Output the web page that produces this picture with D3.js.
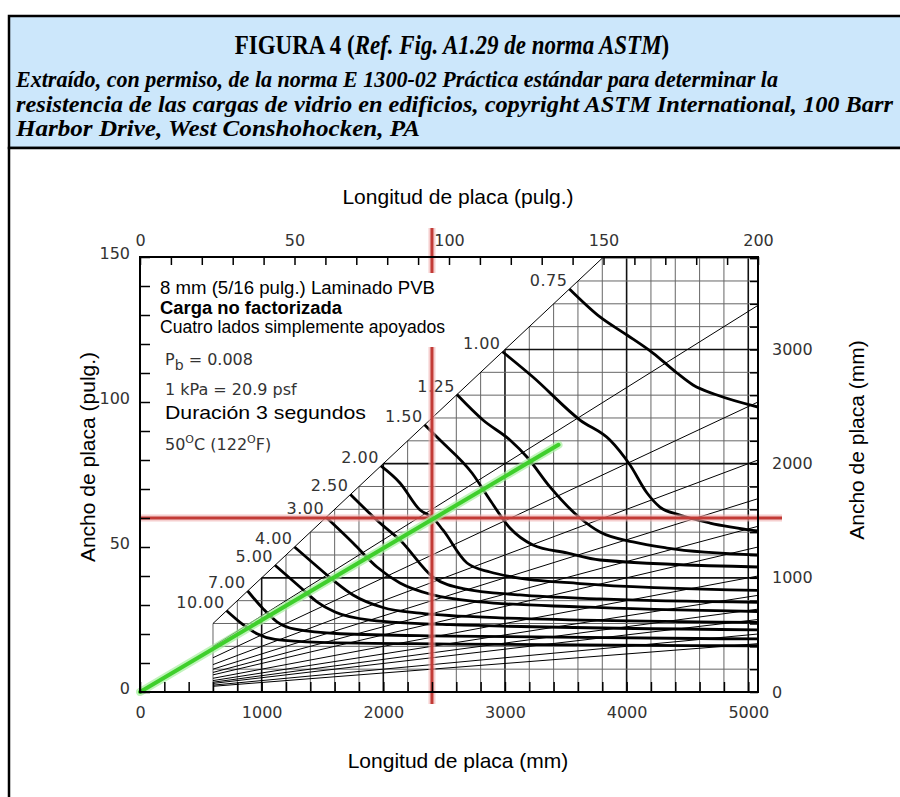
<!DOCTYPE html>
<html><head><meta charset="utf-8">
<script src="https://cdn.jsdelivr.net/npm/d3@7"></script>
<style>
html,body{margin:0;padding:0;background:#fff;}
svg{display:block;}
</style></head><body>
<svg id="c" width="900" height="797"></svg>
<script>
// ================= DATA =================
const headerTitleBold = "FIGURA 4 (";
const headerTitleItalic = "Ref. Fig. A1.29 de norma ASTM";
const headerTitleEnd = ")";
const headerLines = [
  "Extraído, con permiso, de la norma E 1300-02 Práctica estándar para determinar la",
  "resistencia de las cargas de vidrio en edificios, copyright ASTM International, 100 Barr",
  "Harbor Drive, West Conshohocken, PA"
];
const topAxisTitle = "Longitud de placa (pulg.)";
const bottomAxisTitle = "Longitud de placa (mm)";
const leftAxisTitle = "Ancho de placa (pulg.)";
const rightAxisTitle = "Ancho de placa (mm)";

const topTickLabels = [0, 50, 100, 150, 200];        // inches
const leftTickLabels = [0, 50, 100, 150];            // inches
const bottomTickLabels = [0, 1000, 2000, 3000, 4000, 5000]; // mm
const rightTickLabels = [0, 1000, 2000, 3000];       // mm

const loadLabels = ["0.75","1.00","1.25","1.50","2.00","2.50","3.00","4.00","5.00","7.00","10.00"];
// load curves (kPa): [length mm, width mm]
const curve075 = [[3530,3530],[3781,3285],[4003,3127],[4217,2969],[4414,2794],[4546,2689],[4743,2601],[5080,2496]];
const curve100 = [[2980,2980],[3230,2759],[3617,2382],[3863,2207],[4028,1988],[4168,1743],[4274,1620],[4439,1550],[4685,1480],[5080,1410]];
const curve125 = [[2605,2605],[2819,2382],[3041,2207],[3181,2058],[3370,1796],[3617,1524],[3781,1401],[4053,1314],[4332,1261],[5080,1200]];
const curve150 = [[2340,2340],[2466,2207],[2729,1918],[2877,1682],[3041,1436],[3230,1288],[3510,1218],[3781,1156],[5080,1095]];
const curve200 = [[1980,1980],[2137,1831],[2302,1594],[2408,1524],[2490,1419],[2688,1130],[2877,1051],[3066,1007],[3617,950],[5080,890]];
const curve250 = [[1730,1730],[1973,1480],[2137,1331],[2408,1007],[2655,905],[3124,850],[3781,815],[5080,785]];
const curve300 = [[1530,1530],[1751,1305],[1948,1095],[2137,955],[2408,850],[2795,790],[3617,745],[5080,705]];
const curve400 = [[1270,1270],[1422,1130],[1586,981],[1751,850],[1997,740],[2302,690],[2959,650],[5080,610]];
const curve500 = [[1110,1110],[1315,920],[1455,790],[1603,700],[1891,630],[2548,590],[5080,545]];
const curve700 = [[885,885],[1011,730],[1126,615],[1274,550],[1644,510],[2548,490],[5080,465]];
const curve1000 = [[712,712],[847,590],[962,510],[1110,460],[1480,435],[2548,420],[5080,405]];
const loadCurves = [curve075, curve100, curve125, curve150, curve200, curve250, curve300, curve400, curve500, curve700, curve1000];

const aspectRatios = [1.5, 2, 2.5, 3, 3.5, 4, 5, 6, 7, 8, 10, 12];   // length / width
const gridStep = 200;          // mm (minor grid)
const gridMajor = 1000;        // mm (major grid)
const gridStart = 600;         // mm (minimum plate dimension)
const lengthMaxMm = 5080, widthMaxMm = 3810;  // = 200 in, 150 in
const lengthMaxIn = 200, widthMaxIn = 150;

const selectedLength = 2400;   // mm (red vertical)
const selectedWidth = 1524;    // mm (red horizontal, 60 in)
const greenLine = [[0,0],[3440,2165]];

const noteBox = ["8 mm (5/16 pulg.) Laminado PVB", "Carga no factorizada", "Cuatro lados simplemente apoyados"];
const noteExtra = ["1 kPa = 20.9 psf", "Duración 3 segundos"];

// ================= DRAW =================
const svg = d3.select("#c");
const L = 140, R = 758, T = 257, B = 692;
const x = d3.scaleLinear().domain([0, lengthMaxMm]).range([L, R]);
const y = d3.scaleLinear().domain([0, widthMaxMm]).range([B, T]);
const xIn = d3.scaleLinear().domain([0, lengthMaxIn]).range([L, R]);
const yIn = d3.scaleLinear().domain([0, widthMaxIn]).range([B, T]);

// header
svg.append("rect").attr("x", 9).attr("y", 16).attr("width", 900).attr("height", 132)
  .attr("fill", "#cce7fb").attr("stroke", "#000").attr("stroke-width", 2.5);
svg.append("rect").attr("x", 9).attr("y", 148).attr("width", 900).attr("height", 660)
  .attr("fill", "#fff").attr("stroke", "#000").attr("stroke-width", 2.5);

const t1 = svg.append("text").attr("transform", "translate(452,54) scale(0.82,1)")
  .attr("text-anchor", "middle")
  .attr("font-family", "Liberation Serif, Times New Roman, serif").attr("font-weight", "bold")
  .attr("font-size", 28);
t1.append("tspan").text(headerTitleBold);
t1.append("tspan").attr("font-style", "italic").text(headerTitleItalic);
t1.append("tspan").text(headerTitleEnd);

const headerWidths = [762, 877, 404];
svg.selectAll("text.hl").data(headerLines).join("text").attr("class", "hl")
  .attr("x", 16).attr("y", (d, i) => 87 + i * 24.5)
  .attr("font-family", "Liberation Serif, Times New Roman, serif").attr("font-weight", "bold")
  .attr("font-style", "italic").attr("font-size", 22.5)
  .attr("textLength", (d, i) => headerWidths[i]).attr("lengthAdjust", "spacingAndGlyphs")
  .text(d => d);

// plot
const g = svg.append("g");
const clip = svg.append("clipPath").attr("id", "pc");
clip.append("rect").attr("x", L).attr("y", T).attr("width", R - L).attr("height", B - T);

// grid
const vLines = d3.range(gridStart, lengthMaxMm, gridStep);
const hLines = d3.range(gridStep, widthMaxMm, gridStep);
const isMajor = d => d % gridMajor === 0;
const grid = g.append("g");
grid.selectAll("line.v").data(vLines).join("line")
  .attr("stroke", d => isMajor(d) ? "#111" : "#666").attr("stroke-width", d => isMajor(d) ? 1.6 : 1)
  .attr("x1", d => x(d)).attr("x2", d => x(d))
  .attr("y1", y(0)).attr("y2", d => y(Math.min(d, widthMaxMm)));
grid.selectAll("line.h").data(hLines).join("line")
  .attr("stroke", d => isMajor(d) ? "#111" : "#666").attr("stroke-width", d => isMajor(d) ? 1.6 : 1)
  .attr("x1", d => x(Math.max(d, gridStart))).attr("x2", x(lengthMaxMm))
  .attr("y1", d => y(d)).attr("y2", d => y(d));

// diagonal (aspect 1)
g.append("line").attr("stroke", "#000").attr("stroke-width", 1)
  .attr("x1", x(gridStart)).attr("y1", y(gridStart))
  .attr("x2", x(widthMaxMm)).attr("y2", y(widthMaxMm));
// aspect ratio lines
g.append("g").attr("stroke", "#000").attr("stroke-width", 1)
  .selectAll("line").data(aspectRatios).join("line")
  .attr("x1", x(gridStart)).attr("y1", r => y(gridStart / r))
  .attr("x2", x(lengthMaxMm)).attr("y2", r => y(lengthMaxMm / r));

// load curves
const line = d3.line().x(d => x(d[0])).y(d => y(d[1])).curve(d3.curveMonotoneX);
g.append("g").attr("clip-path", "url(#pc)").selectAll("path").data(loadCurves).join("path")
  .attr("d", line).attr("fill", "none").attr("stroke", "#000").attr("stroke-width", 2.8);

// load labels
g.selectAll("text.ll").data(loadCurves).join("text").attr("class", "ll")
  .attr("x", d => x(d[0][0]) - 2).attr("y", d => y(d[0][1]) - 3)
  .attr("text-anchor", "end").attr("font-family", "DejaVu Sans, sans-serif")
  .attr("font-size", 16).attr("fill", "#333").attr("letter-spacing", 0.5)
  .text((d, i) => loadLabels[i]);

// red lines
const red = g.append("g");
[["#f0b0b0", 7, 0.6], ["#c23b36", 3, 1]].forEach(([c, w, o]) => {
  red.append("line").attr("stroke", c).attr("stroke-width", w).attr("opacity", o)
    .attr("x1", x(selectedLength)).attr("x2", x(selectedLength)).attr("y1", T - 29).attr("y2", B + 12);
  red.append("line").attr("stroke", c).attr("stroke-width", w).attr("opacity", o)
    .attr("x1", L).attr("x2", R + 24).attr("y1", y(selectedWidth)).attr("y2", y(selectedWidth));
});
// green line
[["#a8f0a0", 8, 0.7], ["#3fcf2c", 4, 1]].forEach(([c, w, o]) => {
  g.append("line").attr("stroke", c).attr("stroke-width", w).attr("opacity", o)
    .attr("stroke-linecap", "round")
    .attr("x1", x(greenLine[0][0])).attr("y1", y(greenLine[0][1]))
    .attr("x2", x(greenLine[1][0])).attr("y2", y(greenLine[1][1]));
});

// frame
g.append("rect").attr("x", L).attr("y", T).attr("width", R - L).attr("height", B - T)
  .attr("fill", "none").attr("stroke", "#000").attr("stroke-width", 2);

// axes
const tickFont = sel => sel.selectAll("text").attr("font-family", "DejaVu Sans, sans-serif")
  .attr("font-size", 16).attr("fill", "#333");
const cleanAxis = sel => { sel.select(".domain").remove(); sel.selectAll("line").attr("stroke", "#000").attr("stroke-width", 1.5); };

const topAx = g.append("g").attr("transform", `translate(0,${T})`)
  .call(d3.axisTop(xIn).tickValues(d3.range(0, lengthMaxIn + 1, 10)).tickSize(-8).tickPadding(11)
    .tickFormat(d => topTickLabels.includes(d) ? d : ""));
cleanAxis(topAx); tickFont(topAx);

const leftAx = g.append("g").attr("transform", `translate(${L},0)`)
  .call(d3.axisLeft(yIn).tickValues(d3.range(0, widthMaxIn + 1, 10)).tickSize(-10).tickPadding(10)
    .tickFormat(d => leftTickLabels.includes(d) ? d : ""));
cleanAxis(leftAx); tickFont(leftAx);
leftAx.selectAll("text").attr("dy", "0.1em");

const botAx = g.append("g").attr("transform", `translate(0,${B})`)
  .call(d3.axisBottom(x).tickValues(d3.range(0, 5001, 200)).tickSize(-10).tickPadding(15)
    .tickFormat(d => bottomTickLabels.includes(d) ? d : ""));
cleanAxis(botAx); tickFont(botAx);

const rightAx = g.append("g").attr("transform", `translate(${R},0)`)
  .call(d3.axisRight(y).tickValues(d3.range(0, 3801, 200)).tickSize(-8).tickPadding(14)
    .tickFormat(d => rightTickLabels.includes(d) ? d : ""));
cleanAxis(rightAx); tickFont(rightAx);

// axis titles
const axTitle = (tx, ty, rot, txt) => svg.append("text")
  .attr("transform", `translate(${tx},${ty}) rotate(${rot})`).attr("text-anchor", "middle")
  .attr("font-family", "Liberation Sans, Arial, sans-serif").attr("font-size", 21).attr("fill", "#000").text(txt);
axTitle(458, 204, 0, topAxisTitle);
axTitle(458, 768, 0, bottomAxisTitle);
axTitle(95, 457, -90, leftAxisTitle);
axTitle(864, 440, -90, rightAxisTitle);

// note box
svg.append("rect").attr("x", 157).attr("y", 273).attr("width", 293).attr("height", 74).attr("fill", "#fff");
const noteWidths = [275, 182, 285];
svg.selectAll("text.nb").data(noteBox).join("text").attr("class", "nb")
  .attr("x", 160).attr("y", (d, i) => 294 + i * 19.5)
  .attr("font-family", "Liberation Sans, Arial, sans-serif").attr("font-size", 17.5)
  .attr("font-weight", (d, i) => i === 1 ? "bold" : "normal")
  .attr("textLength", (d, i) => noteWidths[i]).attr("lengthAdjust", "spacingAndGlyphs")
  .text(d => d);

const grey = {"font-family": "DejaVu Sans, sans-serif", "font-size": 16, "fill": "#333"};
const pb = svg.append("text").attr("x", 165).attr("y", 365);
Object.entries(grey).forEach(([k, v]) => pb.attr(k, v));
pb.append("tspan").text("P");
pb.append("tspan").attr("dy", 5).attr("font-size", 14).text("b");
pb.append("tspan").attr("dy", -5).text(" = 0.008");

const kpa = svg.append("text").attr("x", 165).attr("y", 395).text(noteExtra[0]);
Object.entries(grey).forEach(([k, v]) => kpa.attr(k, v));
svg.append("text").attr("x", 165).attr("y", 419).attr("font-family", "Liberation Sans, Arial, sans-serif")
  .attr("font-size", 19).attr("textLength", 201).attr("lengthAdjust", "spacingAndGlyphs").text(noteExtra[1]);
const temp = svg.append("text").attr("x", 165).attr("y", 450);
Object.entries(grey).forEach(([k, v]) => temp.attr(k, v));
temp.append("tspan").text("50");
temp.append("tspan").attr("dy", -7).attr("font-size", 11).text("O");
temp.append("tspan").attr("dy", 7).text("C (122");
temp.append("tspan").attr("dy", -7).attr("font-size", 11).text("O");
temp.append("tspan").attr("dy", 7).text("F)");
</script>
</body></html>
